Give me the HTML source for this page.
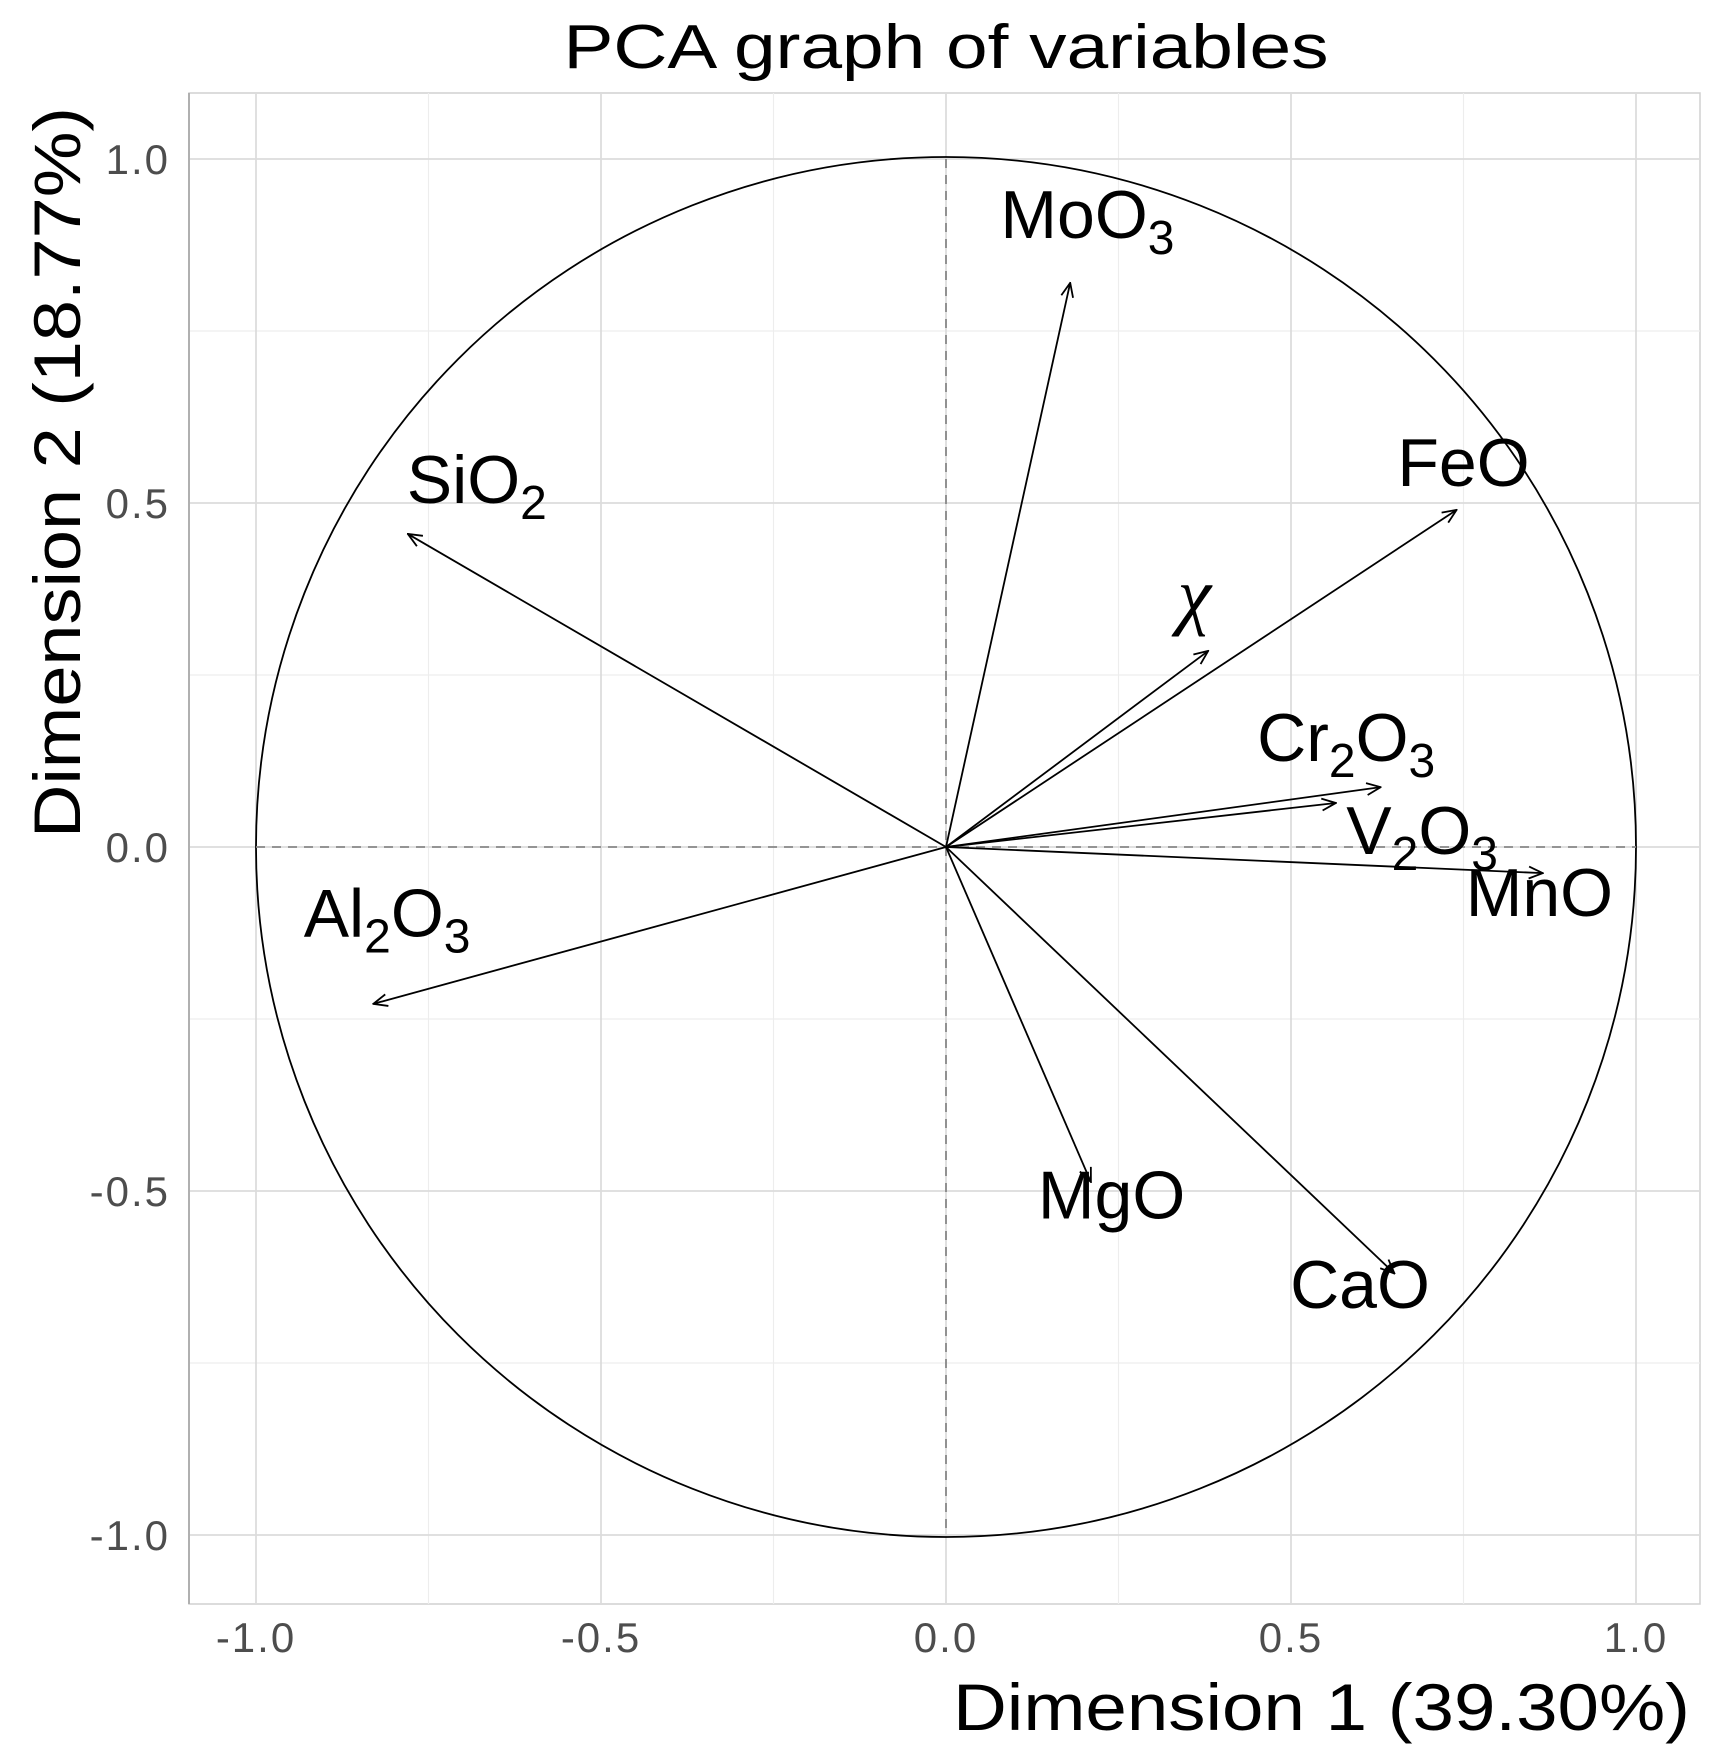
<!DOCTYPE html>
<html><head><meta charset="utf-8"><style>
html,body{margin:0;padding:0;background:#fff;}
svg{display:block;font-family:"Liberation Sans",Arial,sans-serif;}
</style></head><body>
<svg id="chart" width="1722" height="1757" viewBox="0 0 1722 1757">
<defs>
<marker id="ah" markerWidth="16" markerHeight="14" refX="15" refY="7" orient="auto" markerUnits="userSpaceOnUse">
<path d="M1,1 L15,7 L1,13" fill="none" stroke="#000" stroke-width="1.8"/>
</marker>
</defs>
<text x="946" y="68" font-size="62" text-anchor="middle" textLength="765" lengthAdjust="spacingAndGlyphs">PCA graph of variables</text>
<g id="grid"></g>
<g id="plot"></g>
<g id="ticks"></g>
<text x="1690" y="1730" font-size="66" text-anchor="end" textLength="737" lengthAdjust="spacingAndGlyphs">Dimension 1 (39.30%)</text>
<text transform="translate(80,107) rotate(-90)" font-size="66" text-anchor="end" textLength="731" lengthAdjust="spacingAndGlyphs">Dimension 2 (18.77%)</text>
</svg>
<script>
const varNames = ["MoO3","SiO2","FeO","chi","Cr2O3","V2O3","MnO","Al2O3","MgO","CaO"];
const dim1 = [0.18,-0.78,0.74,0.38,0.63,0.565,0.865,-0.83,0.21,0.65];
const dim2 = [0.82,0.455,0.49,0.285,0.087,0.064,-0.038,-0.228,-0.487,-0.62];
const labelDim1 = [0.205,-0.68,0.75,0.36,0.58,0.69,0.86,-0.81,0.24,0.60];
const labelDim2 = [0.885,0.50,0.525,0.33,0.125,-0.01,-0.10,-0.13,-0.54,-0.67];
const xTicks = [-1.0,-0.5,0.0,0.5,1.0];
const yTicks = [-1.0,-0.5,0.0,0.5,1.0];
const minorTicks = [-0.75,-0.25,0.25,0.75];

const X0=946, Y0=847, UX=690, UY=688;
const PL=189, PR=1700, PT=93, PB=1604;
const sx = v => X0 + v*UX;
const sy = v => Y0 - v*UY;
const NS="http://www.w3.org/2000/svg";
function mk(tag, attrs, parent){ const e=document.createElementNS(NS,tag); for(const k in attrs) e.setAttribute(k,attrs[k]); parent.appendChild(e); return e; }

const grid=document.getElementById('grid');
const bg=mk('rect',{x:PL,y:PT,width:PR-PL,height:PB-PT,fill:'#fff',stroke:'#d0d0d0','stroke-width':1.5},grid);


minorTicks.forEach(v=>{
  const a=mk('line',{x1:sx(v),x2:sx(v),y1:PT,y2:PB,stroke:'#ededed','stroke-width':1.2},grid);
  
  
  const b=mk('line',{x1:PL,x2:PR,y1:sy(v),y2:sy(v),stroke:'#ededed','stroke-width':1.2},grid);
  
  
});
xTicks.forEach(v=>{
  const a=mk('line',{x1:sx(v),x2:sx(v),y1:PT,y2:PB,stroke:'#dcdcdc','stroke-width':1.8},grid);
  
  
});
yTicks.forEach(v=>{
  const b=mk('line',{x1:PL,x2:PR,y1:sy(v),y2:sy(v),stroke:'#dcdcdc','stroke-width':1.8},grid);
  
  
});
const yAxisLine=mk('line',{x1:PL,x2:PL,y1:PT,y2:PB,stroke:'#b0b0b0','stroke-width':2},grid);



const plot=document.getElementById('plot');
const c=mk('circle',{cx:sx(0),cy:sy(0),r:UX,fill:'none',stroke:'#000','stroke-width':1.8},plot);


const hz=mk('line',{x1:sx(-1),x2:sx(1),y1:sy(0),y2:sy(0),stroke:'#888','stroke-width':1.8,'stroke-dasharray':'9,7'},plot);


const vt=mk('line',{x1:sx(0),x2:sx(0),y1:sy(1),y2:sy(-1),stroke:'#888','stroke-width':1.8,'stroke-dasharray':'9,7'},plot);



const labelParts = {MoO3:['MoO','3'],SiO2:['SiO','2'],FeO:['FeO',''],chi:['χ',''],Cr2O3:['Cr','2','O','3'],V2O3:['V','2','O','3'],MnO:['MnO',''],Al2O3:['Al','2','O','3'],MgO:['MgO',''],CaO:['CaO','']};
varNames.forEach((n,i)=>{
  const l=mk('line',{x1:sx(0),y1:sy(0),x2:sx(dim1[i]),y2:sy(dim2[i]),stroke:'#000','stroke-width':1.8,'marker-end':'url(#ah)'},plot);
  
  
  const t=mk('text',{x:sx(labelDim1[i]),y:sy(labelDim2[i]),'font-size':68,'text-anchor':'middle'},plot);
  if(n==='chi'){ t.setAttribute('font-family','"Liberation Serif",serif'); t.setAttribute('font-style','italic'); t.setAttribute('font-size','76'); }
  
  
  labelParts[n].forEach((p,j)=>{
    if(!p) return;
    const s=mk('tspan',{},t);
    if(j%2===1){ s.setAttribute('font-size','48'); s.setAttribute('dy','16'); }
    else if(j>0){ s.setAttribute('dy','-16'); }
    s.textContent=p;
  });
});

const ticks=document.getElementById('ticks');
xTicks.forEach(v=>{
  const t=mk('text',{x:sx(v),y:1652,'font-size':42,fill:'#4d4d4d','text-anchor':'middle','letter-spacing':2},ticks);
  
  
  t.textContent=v.toFixed(1);
});
yTicks.forEach(v=>{
  const t=mk('text',{x:170,y:sy(v)+15,'font-size':42,fill:'#4d4d4d','text-anchor':'end','letter-spacing':2},ticks);
  
  
  t.textContent=v.toFixed(1);
});
</script>
</body></html>
